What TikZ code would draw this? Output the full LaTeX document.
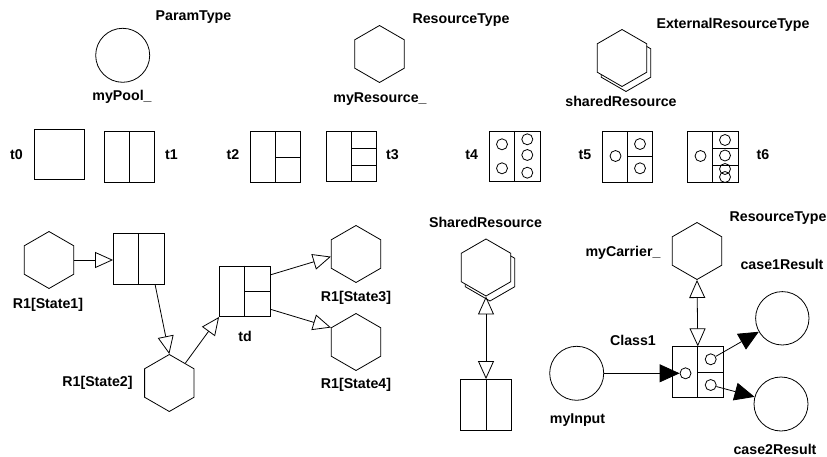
\documentclass[tikz,border=0pt]{standalone}
\usepackage{fontspec}
\setmainfont{Liberation Sans}
\usetikzlibrary{shapes.geometric,arrows.meta,calc}

\begin{document}
\begin{tikzpicture}[x=1pt,y=-1pt,
  line width=0.8pt,
  every node/.style={font=\fontsize{14.2}{16}\selectfont\bfseries},
  lbl/.style={inner sep=0},
  hexa/.style={draw, fill=white, regular polygon, regular polygon sides=6,
    shape border rotate=30, minimum size=57pt, inner sep=0},
  place/.style={draw, circle, minimum size=54pt, inner sep=0},
  tbox/.style={draw, rectangle, minimum width=50.5pt, minimum height=50.5pt, inner sep=0},
  port/.style={draw, circle, minimum size=11pt, inner sep=0},
  openarr/.style={-{Triangle[open,length=18pt,width=16pt]}},
  biarr/.style={{Triangle[open,length=18pt,width=16pt]}-{Triangle[open,length=18pt,width=16pt]}},
  fillarr/.style={-{Triangle[length=20pt,width=18pt]}}
]
\useasboundingbox (0,0) rectangle (827,457);

% ---- legend: element kinds ----
\node[place] (pool) at (122.7,55.3) {};
\node[lbl] (poolT) at (193.5,17) {ParamType};
\node[lbl] (poolN) at (122,97) {myPool\_};

\node[hexa] (res) at (379.5,54) {};
\node[lbl] (resT) at (461,20) {ResourceType};
\node[lbl] (resN) at (380,99) {myResource\_};

\node[hexa] (extB) at (626,63) {};
\node[hexa] (ext) at (622,58) {};
\node[lbl] (extT) at (733,25) {ExternalResourceType};
\node[lbl] (extN) at (621,101.7) {sharedResource};

% ---- legend: transition boxes ----
\node[tbox] (t0) at (59.5,154.5) {};
\node[lbl] (t0L) at (16.5,155) {t0};

\node[tbox] (t1) at (129.5,157) {};
\draw (t1.north) -- (t1.south);
\node[lbl] (t1L) at (171.5,155) {t1};

\node[tbox] (t2) at (275.3,157) {};
\draw (t2.north) -- (t2.south);
\draw (t2.center) -- (t2.east);
\node[lbl] (t2L) at (233,155) {t2};

\node[tbox] (t3) at (351.2,156.5) {};
\draw (t3.north) -- (t3.south);
\draw ($(t3.north)!1/3!(t3.south)$) -- ($(t3.north east)!1/3!(t3.south east)$);
\draw ($(t3.north)!2/3!(t3.south)$) -- ($(t3.north east)!2/3!(t3.south east)$);
\node[lbl] (t3L) at (392.5,155) {t3};

\node[tbox] (t4) at (514.7,156.5) {};
\draw (t4.north) -- (t4.south);
\node[port] (t4a) at (502,144.3) {};
\node[port] (t4b) at (502,168.3) {};
\node[port] (t4c) at (527.3,139.3) {};
\node[port] (t4d) at (527.3,155) {};
\node[port] (t4e) at (527.3,172.7) {};
\node[lbl] (t4L) at (471.7,155) {t4};

\node[tbox] (t5) at (627.5,156.7) {};
\draw (t5.north) -- (t5.south);
\draw (t5.center) -- (t5.east);
\node[port] (t5a) at (615.5,156) {};
\node[port] (t5b) at (640,144) {};
\node[port] (t5c) at (640,168.3) {};
\node[lbl] (t5L) at (585,155) {t5};

\node[tbox] (t6) at (712.7,156.7) {};
\draw (t6.north) -- (t6.south);
\draw ($(t6.north)!1/3!(t6.south)$) -- ($(t6.north east)!1/3!(t6.south east)$);
\draw ($(t6.north)!2/3!(t6.south)$) -- ($(t6.north east)!2/3!(t6.south east)$);
\node[port] (t6a) at (700.5,156) {};
\node[port] (t6b) at (725,140) {};
\node[port] (t6c) at (725,155.5) {};
\node[port] (t6d) at (725,169) {};
\node[port] (t6e) at (725,177) {};
\node[lbl] (t6L) at (763,155) {t6};

% ---- state flow of R1 ----
\node[hexa] (s1) at (49,260) {};
\node[lbl] (s1L) at (48,305) {R1[State1]};
\node[tbox] (boxA) at (138.7,259) {};
\draw (boxA.north) -- (boxA.south);
\node[hexa] (s2) at (169.3,383) {};
\node[lbl] (s2L) at (97.5,382.7) {R1[State2]};
\node[tbox] (td) at (244.7,291.3) {};
\draw (td.north) -- (td.south);
\draw (td.center) -- (td.east);
\node[lbl] (tdL) at (245,336) {td};
\node[hexa] (s3) at (356,254) {};
\node[lbl] (s3L) at (356,297.7) {R1[State3]};
\node[hexa] (s4) at (356,342) {};
\node[lbl] (s4L) at (356,385) {R1[State4]};

\draw[openarr] (s1.east) -- (boxA.west |- s1.east);
\draw[openarr] ($(boxA.south west)!0.82!(boxA.south east)$) -- (s2.north);
\draw[openarr] (s2.51) -- (td.south west);
\draw[openarr] ($(td.north east)!0.18!(td.south east)$) -- (s3.186);
\draw[openarr] ($(td.north east)!0.85!(td.south east)$) -- (s4.150);

% ---- shared resource ----
\node[lbl] (shT) at (485.5,222.7) {SharedResource};
\node[hexa] (shB) at (490,272.5) {};
\node[hexa] (sh) at (486,267.5) {};
\node[tbox] (boxB) at (486,404.7) {};
\draw (boxB.north) -- (boxB.south);
\draw[biarr] (boxB.north) -- (sh.south);

% ---- Class1 with carrier, input and results ----
\node[lbl] (carT) at (778,218.3) {ResourceType};
\node[hexa] (car) at (697,251) {};
\node[lbl] (carN) at (623,253.3) {myCarrier\_};
\node[tbox] (c1) at (697.8,372) {};
\draw (c1.north) -- (c1.south);
\draw (c1.center) -- (c1.east);
\node[lbl] (c1L) at (633,340) {Class1};
\node[port] (c1in) at (685.5,373.3) {};
\node[port] (c1a) at (710.7,359.3) {};
\node[port] (c1b) at (710.7,385) {};
\draw[biarr] (c1.north) -- (car.south);

\node[place] (in) at (576.7,373.3) {};
\node[lbl] (inL) at (577.5,420) {myInput};
\node[place, minimum size=53.4pt] (r1) at (782.3,318.3) {};
\node[lbl] (r1L) at (782,264.3) {case1Result};
\node[place] (r2) at (781,404) {};
\node[lbl] (r2L) at (775,449) {case2Result};

\draw[fillarr] (in) -- (c1in);
\draw[fillarr] (c1a) -- (r1);
\draw[fillarr] (c1b) -- (r2);
\end{tikzpicture}
\end{document}
